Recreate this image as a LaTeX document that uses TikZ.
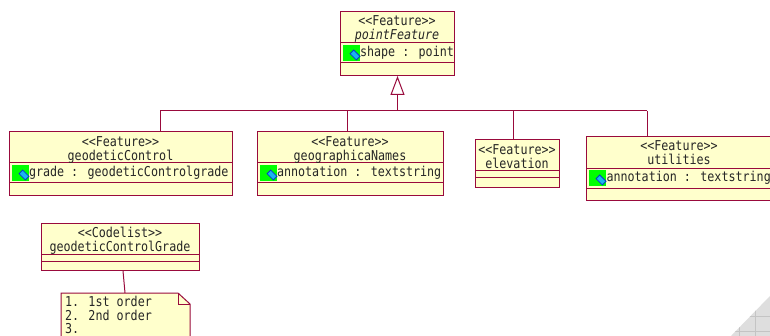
\documentclass[tikz,border=0pt]{standalone}
\usepackage{fontspec}
\newfontfamily\umlfont[FakeStretch=0.86]{DejaVu Sans Mono}
\usetikzlibrary{arrows.meta}
\definecolor{umlline}{HTML}{990A3C}
\definecolor{umlfill}{HTML}{FFFFCC}
\definecolor{iconblue}{HTML}{19B4F0}
\definecolor{icondark}{HTML}{0A3CC8}
\definecolor{cornerfill}{HTML}{DEDEDE}
\definecolor{cornerline}{HTML}{C4C4C4}
\tikzset{
  classbox/.style={draw=umlline,fill=umlfill,line width=1pt,inner sep=0pt,outer sep=0pt,rectangle},
  compart/.style={draw=umlline,line width=1pt},
  conn/.style={draw=umlline,line width=1pt},
  gentip/.style={conn,-{Triangle[open,length=19pt,width=14pt,line width=1pt,fill=white]}},
  umltext/.style={inner sep=0pt,outer sep=0pt,anchor=base,font=\umlfont\fontsize{13.6}{14}\selectfont,text=black!85},
  umlleft/.style={umltext,anchor=base west},
  noteline/.style={draw=umlline,fill=umlfill,line width=1pt},
  cornerbg/.style={fill=cornerfill},
  cornergrid/.style={draw=cornerline,line width=0.8pt}
}
% name, x1, y1, x2, y2, line a, line b
\newcommand{\umlbox}[7]{%
  \pgfmathsetmacro{\bw}{#4-#2}\pgfmathsetmacro{\bh}{#5-#3}%
  \node[classbox,minimum width=\bw pt,minimum height=\bh pt,anchor=north west] (#1) at (#2,#3) {};
  \draw[compart] (#2,#6) -- (#4,#6);
  \draw[compart] (#2,#7) -- (#4,#7);
}
\newcommand{\attricon}[2]{%
  \fill[green] (#1,#2) rectangle ++(17,16);
  \begin{scope}[shift={(#1+12,#2+10)},rotate=45]
    \fill[iconblue,draw=icondark,line width=0.8pt] (-2.6,-4.4) rectangle (2.6,4.4);
  \end{scope}
}
\begin{document}
\begin{tikzpicture}[x=1pt,y=-1pt]
\useasboundingbox (0,0) rectangle (770,336);
\clip (0,0) rectangle (770,336);
\fill[white] (0,0) rectangle (770,336);
% canvas corner
\begin{scope}
  \clip (770,296) -- (731,336) -- (770,336) -- cycle;
  \path[cornerbg] (770,296) -- (731,336) -- (770,336) -- cycle;
  \draw[cornergrid] (739,290) -- (739,336) (755,290) -- (755,336) (725,316) -- (770,316) (725,331) -- (770,331);
\end{scope}
% classes
\umlbox{pf}{340}{12}{454}{76}{43}{63}
\umlbox{gc}{9}{132}{232}{196}{163}{183}
\umlbox{gn}{257}{132}{443}{196}{163}{183}
\umlbox{el}{475}{140}{559}{188}{171}{178}
\umlbox{ut}{586}{137}{790}{201}{169}{189}
\umlbox{cl}{41}{224}{199}{271}{255}{262}
% connectors
\coordinate (busC) at (397.5,111);
\coordinate (busL) at (160,111);
\coordinate (busG) at (347.5,111);
\coordinate (busE) at (513.5,111);
\coordinate (busR) at (647,111);
\draw[conn] (busL) -- (busR);
\draw[gentip] (busC) -- (busC |- pf.south);
\draw[conn] (busL) -- (busL |- gc.north);
\draw[conn] (busG) -- (busG |- gn.north);
\draw[conn] (busE) -- (busE |- el.north);
\draw[conn] (busR) -- (busR |- ut.north);
% note
\coordinate (noteTop) at (125,293);
\coordinate (clFoot) at (123,271);
\draw[conn] (clFoot) -- (noteTop);
\draw[noteline] (61,345) -- (61,293) -- (178,293) -- (190,304) -- (190,345) -- cycle;
\draw[conn] (178,293) -- (178,304) -- (190,304);
% class texts
\node[umltext] (pfa) at (397,26) {<<Feature>>};
\node[umltext,font=\umlfont\itshape\fontsize{13.6}{14}\selectfont] (pfb) at (397,40) {pointFeature};
\attricon{343}{45}
\node[umlleft] (pfc) at (360,56.5) {shape : point};
\node[umltext] (gca) at (120.5,147) {<<Feature>>};
\node[umltext] (gcb) at (120.5,160.5) {geodeticControl};
\attricon{12}{165}
\node[umlleft] (gcc) at (29,177) {grade : geodeticControlgrade};
\node[umltext] (gna) at (350,147) {<<Feature>>};
\node[umltext] (gnb) at (350,160.5) {geographicaNames};
\attricon{260}{165}
\node[umlleft] (gnc) at (277,177) {annotation : textstring};
\node[umltext] (ela) at (517,155) {<<Feature>>};
\node[umltext] (elb) at (517,168.5) {elevation};
\node[umltext] (uta) at (679,151) {<<Feature>>};
\node[umltext] (utb) at (679,165) {utilities};
\attricon{589}{170}
\node[umlleft] (utc) at (606.5,182) {annotation : textstring};
\node[umltext] (cla) at (120,238) {<<Codelist>>};
\node[umltext] (clb) at (120,252) {geodeticControlGrade};
\node[umlleft] (na) at (65,306) {1. 1st order};
\node[umlleft] (nb) at (65,320) {2. 2nd order};
\node[umlleft] (nc) at (65,333.5) {3.};
\end{tikzpicture}
\end{document}
